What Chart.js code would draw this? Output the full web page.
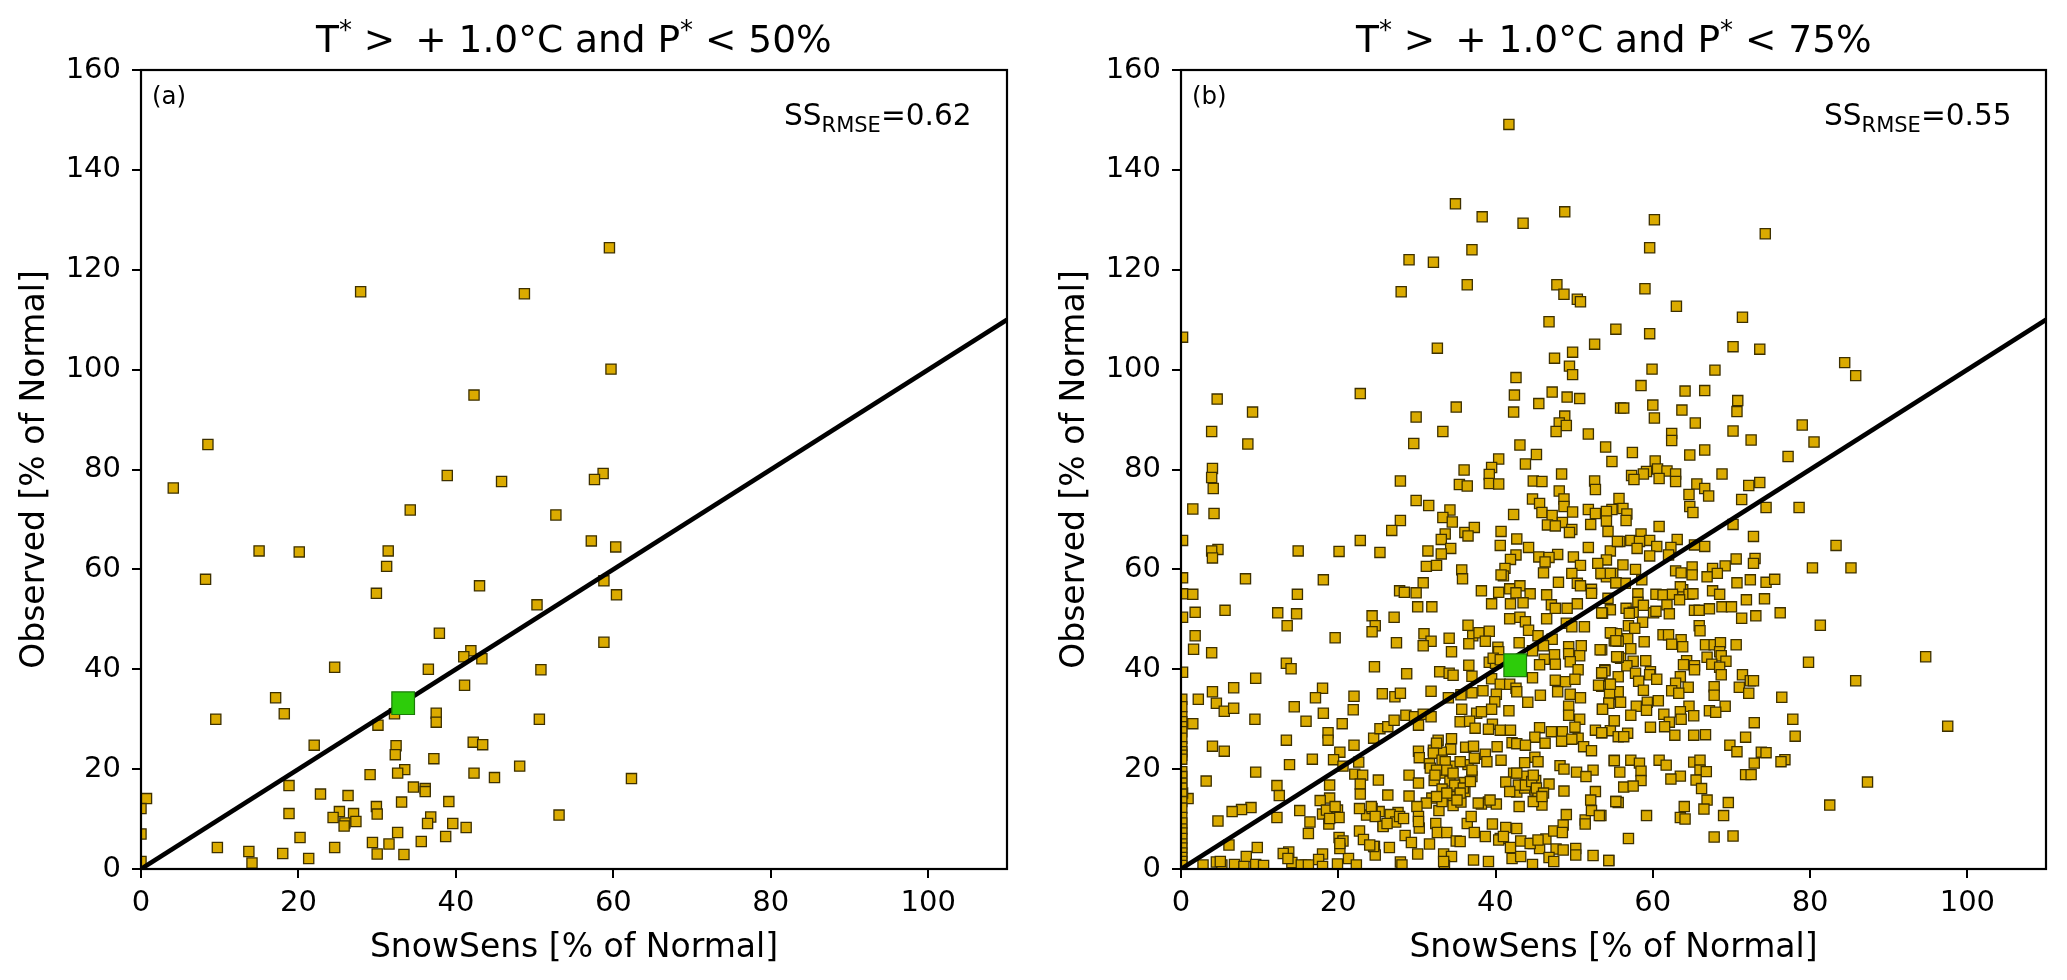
<!DOCTYPE html>
<html>
<head>
<meta charset="utf-8">
<title>SnowSens vs Observed</title>
<script src="https://cdn.jsdelivr.net/npm/chart.js@4"></script>
<style>
  body { margin: 0; background: #fff; width: 2067px; height: 980px; overflow: hidden; position: relative; font-family: "DejaVu Sans", sans-serif; color: #000; }
  canvas { position: absolute; top: 0; }
  .label { position: absolute; white-space: nowrap; line-height: 1; }
  .title { top: 21px; font-size: 37.5px; }
  .title sup { font-size: 26px; line-height: 0; }
  .title i { font-style: normal; margin-left: 8px; }
  .panel { top: 84px; font-size: 24.5px; }
  .skill { top: 101px; font-size: 29.6px; }
  .skill sub { font-size: 21px; line-height: 0; }
</style>
</head>
<body>
<canvas id="chart-a" style="left:0"></canvas>
<canvas id="chart-b" style="left:1040px"></canvas>

<div class="label title" style="left:316px">T<sup>*</sup> &gt; <i>+</i> 1.0°C and P<sup>*</sup> &lt; 50%</div>
<div class="label title" style="left:1356px">T<sup>*</sup> &gt; <i>+</i> 1.0°C and P<sup>*</sup> &lt; 75%</div>
<div class="label panel" style="left:152px">(a)</div>
<div class="label panel" style="left:1192px">(b)</div>
<div class="label skill" style="left:784px">SS<sub>RMSE</sub>=0.62</div>
<div class="label skill" style="left:1824px">SS<sub>RMSE</sub>=0.55</div>

<script>
const xTicks = [0, 20, 40, 60, 80, 100];
const yTicks = [0, 20, 40, 60, 80, 100, 120, 140, 160];
const oneToOne = [[0, 0], [110, 110]];

const meanA = [[33.3, 33.2]];
const meanB = [[42.5, 40.8]];

// panel a: [SnowSens, Observed]
const pointsA = [
  [59.5,124.4],[27.9,115.6],[48.7,115.2],[59.7,100.1],[42.3,94.9],[8.5,85.0],[38.9,78.8],[58.7,79.2],[57.6,78.0],[45.8,77.6],[4.1,76.3],
  [34.2,71.9],[52.7,70.9],[57.2,65.7],[60.3,64.5],[15.0,63.7],[20.1,63.5],[31.4,63.7],[31.2,60.6],[8.2,58.0],[58.8,57.7],[43.0,56.7],
  [29.9,55.2],[60.4,54.9],[50.3,52.9],[37.9,47.2],[58.8,45.4],[41.9,43.7],[41.0,42.5],[43.3,42.1],[24.6,40.4],[36.5,40.0],[50.8,39.9],
  [41.1,36.8],[17.1,34.3],[18.2,31.1],[37.5,31.2],[32.2,31.1],[37.5,29.4],[9.5,30.0],[50.6,30.0],[30.1,28.8],[22.0,24.8],[42.2,25.4],
  [43.4,24.9],[32.4,24.7],[32.3,22.9],[37.2,22.1],[48.1,20.6],[33.5,19.9],[32.6,19.2],[42.3,19.2],[29.1,18.9],[44.9,18.3],[62.3,18.1],
  [18.8,16.7],[34.6,16.4],[36.1,16.1],[36.1,15.5],[22.8,15.0],[26.3,14.7],[0.7,14.1],[39.1,13.5],[33.1,13.4],[29.9,12.5],[0.0,12.1],
  [25.2,11.5],[18.8,11.1],[30.0,11.0],[27.0,11.1],[53.1,10.8],[36.8,10.4],[24.4,10.3],[25.9,9.2],[27.3,9.5],[36.4,9.1],[39.6,9.1],
  [25.8,8.6],[41.3,8.3],[32.6,7.3],[0.0,7.0],[20.2,6.3],[38.7,6.5],[35.6,5.5],[29.4,5.3],[31.5,5.0],[9.7,4.3],[24.6,4.3],[13.7,3.5],
  [18.0,3.1],[30.0,3.0],[33.4,2.9],[21.3,2.1],[14.1,1.2],[0.0,1.5]
];

// panel b: [SnowSens, Observed]
const pointsB = [
  [41.7,149.1],[34.9,133.2],[48.8,131.6],[38.3,130.6],[43.5,129.3],[37.0,124.0],[29.0,122.0],[32.1,121.5],[28.0,115.6],[36.4,117.0],
  [47.8,117.0],[48.7,115.1],[50.4,114.1],[50.8,113.6],[46.8,109.6],[55.3,108.1],[52.6,105.1],[32.6,104.3],[0.2,106.5],[49.8,103.5],
  [47.5,102.3],[49.4,100.7],[49.8,99.0],[42.6,98.4],[42.4,94.9],[47.2,95.5],[49.1,94.5],[50.7,94.2],[45.5,93.2],[4.6,94.1],[9.1,91.5],
  [22.8,95.2],[35.0,92.5],[42.3,91.5],[48.8,90.7],[48.1,89.3],[49.0,88.8],[47.7,87.6],[51.8,87.1],[55.9,92.3],[29.9,90.5],[33.3,87.6],
  [3.9,87.6],[8.5,85.1],[29.6,85.2],[43.1,84.9],[45.2,83.0],[54.0,84.5],[40.4,82.1],[54.8,81.6],
  [60.2,130.0],[59.6,124.4],[74.3,127.2],[59.0,116.2],[63.0,112.7],[71.4,110.5],[59.6,107.2],[70.2,104.6],[73.6,104.1],[59.9,100.1],
  [67.9,99.9],[58.5,96.8],[84.4,101.4],[85.8,98.8],[64.1,95.7],[66.6,95.8],[56.3,92.3],[60.0,92.9],[60.2,90.3],[63.7,91.9],[65.4,89.3],
  [70.8,93.8],[70.7,91.6],[70.2,87.7],[72.5,85.9],[79.0,88.9],[80.5,85.5],[62.4,87.2],[62.4,85.8],[57.4,83.4],[60.3,81.7],[64.7,82.9],
  [66.6,83.9],[77.2,82.6],
  [60.6,80.1],[61.8,79.7],[59.2,79.6],[58.8,79.1],[57.3,78.8],[57.6,78.0],[60.8,78.2],[62.9,79.1],[62.9,77.6],[68.8,79.1],[65.6,77.1],
  [66.6,76.2],[72.2,76.8],[73.6,77.4],[64.6,75.0],[67.1,74.7],[71.3,74.0],[55.7,74.2],[64.7,72.6],[65.1,71.4],[74.4,72.4],[78.6,72.4],
  [56.2,72.2],[54.8,72.0],[54.1,71.6],[56.7,71.1],[54.1,69.7],[56.6,69.8],[54.3,67.6],[60.8,68.6],[70.2,69.0],[72.8,66.6],[58.5,67.1],
  [63.1,66.0],[55.8,65.6],[57.2,65.8],[59.6,65.8],[58.3,65.6],[83.3,64.8],[58.0,64.2],[60.5,64.6],[62.3,64.4],[65.3,64.9],[66.6,64.6],
  [54.6,63.7],[59.6,62.7],[62.0,62.9],[54.1,61.9],[70.6,62.1],[73.0,62.2],[72.8,61.2],[80.3,60.3],[85.2,60.3],[56.2,60.9],[69.2,60.7],
  [67.6,60.2],[57.8,60.0],[62.9,59.7],[63.6,59.3],[65.0,60.5],[65.0,58.9],[68.2,59.2],[66.9,58.5],[53.7,59.2],[54.9,59.2],[53.5,59.1],
  [54.1,58.5],[58.6,57.9],[55.3,57.3],[56.5,57.2],[70.7,57.3],[72.4,57.9],[74.4,57.4],[75.5,58.0],[63.8,55.9],[67.6,55.7],[63.5,56.5],
  [68.5,55.0],[64.6,55.0],[65.1,55.1],[60.4,55.0],[61.3,54.9],[62.5,55.0],[58.1,55.1],[58.1,53.4],[58.8,52.8],[63.4,53.9],[54.3,54.2],
  [71.9,53.9],[74.2,54.1],[54.6,51.9],[56.6,52.2],[61.8,52.9],[57.5,51.4],[57.0,51.2],[60.1,51.3],[60.4,51.6],[62.1,51.1],[65.3,51.8],
  [65.9,51.8],[67.2,52.1],[68.8,52.5],[70.0,52.5],[53.6,51.2],[71.3,50.2],[73.1,50.7],[76.2,51.3],[58.7,49.4],[56.9,48.7],[57.7,48.2],
  [81.3,48.8],[65.9,48.7],[66.0,47.7],[54.8,47.2],[61.3,46.9],[62.0,46.9],[55.4,47.1],[56.8,46.1],[63.6,45.9],[55.1,45.7],[55.6,45.6],
  [58.9,45.5],[62.4,45.0],[63.8,44.5],[66.7,44.9],[67.8,44.9],[68.6,45.3],[70.6,44.9],[57.2,44.1],[53.5,43.9],[68.5,43.5],[68.7,42.7],
  [66.9,42.4],[94.7,42.5],[55.6,42.5],[55.9,42.2],[57.5,41.6],[59.1,41.7],[64.3,41.7],[69.3,41.6],[79.8,41.4],[63.9,40.9],[67.5,41.0],
  [65.3,40.7],[56.7,40.7],[65.3,39.9],[68.5,40.4],[53.9,39.9],[53.5,39.2],[57.8,39.2],[59.7,39.5],[59.6,38.9],[63.5,38.5],[68.7,38.9],
  [71.4,38.9],[55.6,38.5],[72.4,37.7],[72.8,37.7],[60.5,38.0],[58.2,37.6],[54.5,37.0],[85.8,37.7],[62.9,37.2],[53.5,36.6],[67.8,36.5],
  [71.0,36.4],[64.5,36.4],[62.4,35.7],[58.8,35.8],[55.6,35.5],[63.3,35.2],[67.8,34.8],[72.2,35.2],[54.5,35.0],[76.4,34.4],[60.7,33.7],
  [55.9,33.4],[54.4,33.2],[57.9,32.6],[59.3,33.4],[59.2,31.8],[64.6,32.6],[69.2,32.6],[53.6,32.0],[63.5,31.5],[67.2,31.7],[68.0,31.4],
  [61.4,31.0],[57.2,30.8],[63.6,30.0],[65.2,30.7],[55.1,29.7],[62.1,29.4],[72.9,29.3],[77.8,30.0],[97.5,28.6],[61.5,28.5],[59.7,28.4],
  [54.6,27.7],[53.5,27.3],[56.8,27.2],[55.6,26.5],[56.3,26.5],[62.8,26.8],[65.2,26.8],[66.7,26.9],[71.8,26.4],[78.1,26.6],[69.8,24.8],
  [70.7,23.5],[73.8,23.4],[74.4,23.3],[76.8,21.9],[76.3,21.5],[55.1,21.8],[57.2,21.8],[58.3,21.2],[60.8,21.8],[61.7,20.8],[65.2,21.4],
  [66.0,21.8],[72.9,21.2],[55.8,19.4],[58.5,19.6],[66.0,19.8],[66.8,19.5],[71.8,18.9],[72.5,18.9],[63.5,18.6],[62.3,18.0],[58.5,17.7],
  [65.5,17.8],[87.3,17.4],[56.3,16.4],[57.5,16.6],[66.2,16.1],[66.9,13.8],[55.3,13.5],[55.6,13.3],[69.6,13.3],[64.0,12.5],[82.5,12.8],
  [66.5,12.0],[59.2,10.7],[63.5,10.3],[64.1,10.0],[69.0,10.7],[53.4,10.7],[56.9,6.1],[67.8,6.4],[70.2,6.6],[54.4,1.7],
  [4.0,80.2],[3.9,78.4],[4.1,76.2],[1.5,72.1],[4.2,71.2],[0.2,65.8],[4.7,64.0],[3.9,63.7],[4.0,62.3],[0.2,58.3],[0.2,55.1],[1.5,55.0],
  [0.2,50.4],[1.8,51.4],[1.8,46.7],[1.6,44.0],[3.9,43.3],[0.2,39.4],[8.2,58.1],[14.9,63.7],[20.1,63.6],[22.8,65.8],[25.3,63.4],[27.9,77.7],
  [29.9,73.8],[31.5,72.8],[27.9,69.8],[26.8,67.8],[34.2,71.9],[33.3,70.4],[34.5,69.5],[33.6,67.1],[33.1,66.0],[34.3,64.2],[31.4,63.7],
  [33.1,63.1],[31.2,60.6],[32.5,60.8],[36.1,67.4],[37.3,68.4],[36.5,66.7],[36.0,79.9],[35.4,77.0],[36.4,76.7],[39.5,80.4],[39.2,79.0],
  [39.2,77.2],[40.4,77.1],[43.8,81.1],[44.8,77.7],[45.9,77.6],[48.4,79.1],[52.6,77.7],[52.7,76.0],[48.1,75.7],[48.7,74.1],[44.7,74.1],
  [45.6,73.2],[48.7,72.6],[45.9,71.4],[47.2,70.8],[42.3,71.0],[49.8,71.5],[51.8,72.0],[52.7,71.2],[52.1,69.0],[48.5,69.4],[46.6,68.9],
  [47.6,68.7],[49.7,68.0],[49.4,67.4],[40.7,67.6],[42.7,66.1],[40.6,64.8],[44.2,64.4],[51.8,64.4],[55.5,65.6],[47.9,63.0],[42.6,62.9],
  [45.5,62.5],[46.8,62.4],[49.9,62.5],[41.9,62.0],[41.2,60.2],[53.0,61.2],[50.8,60.8],[46.3,61.5],[46.1,59.3],[35.7,59.9],[35.8,58.1],
  [41.0,58.7],[40.7,58.9],[49.7,59.2],[53.4,59.2],[54.6,59.2],[48.0,57.4],[50.4,57.2],[55.3,57.3],[50.8,56.7],[52.2,56.0],[52.2,55.2],
  [30.8,57.3],[38.2,55.7],[40.4,55.4],[41.8,56.1],[43.1,56.7],[42.6,55.3],[44.4,55.1],[27.8,55.7],[28.4,55.4],[29.9,55.3],[46.5,54.9],
  [41.9,53.1],[43.5,53.3],[39.5,53.1],[30.1,52.5],[31.9,52.5],[50.4,53.1],[47.1,52.9],[47.6,52.2],[49.1,52.2],[53.5,51.3],[41.8,50.1],
  [43.1,50.4],[46.5,50.1],[43.8,49.5],[49.0,49.2],[51.3,48.5],[49.7,48.5],[24.3,50.7],[24.7,48.7],[24.3,47.5],[27.1,50.4],[5.6,51.8],
  [12.3,51.3],[14.7,51.1],[13.5,48.7],[18.1,57.9],[14.8,55.0],[19.6,46.3],[27.4,45.3],[30.9,47.1],[31.8,45.6],[30.8,44.7],[34.1,46.2],
  [34.4,43.5],[36.5,48.8],[37.1,46.7],[37.9,47.3],[39.2,47.6],[36.6,45.1],[38.7,45.6],[44.2,47.8],[45.4,46.7],[43.0,45.3],[47.2,46.0],
  [54.6,47.3],[55.3,45.7],[40.3,44.4],[40.4,43.5],[46.1,44.7],[49.3,44.5],[50.9,44.7],[53.3,43.9],[44.7,43.7],[47.5,42.9],[50.7,42.7],
  [49.3,43.1],[46.2,42.0],[49.5,41.5],[47.6,41.0],[45.6,40.9],[55.6,42.4],[39.2,41.4],[40.0,41.2],[36.6,40.8],[50.5,39.9],[53.9,39.7],
  [53.5,39.3],[55.4,42.5],[13.4,41.2],[14.0,40.1],[24.6,40.5],[28.7,39.1],[32.9,39.5],[34.1,39.2],[34.6,38.8],[37.0,38.6],[9.5,38.2],
  [39.5,38.1],[44.7,38.3],[47.6,37.8],[48.9,37.5],[50.1,38.0],[4.0,35.5],[6.7,36.3],[2.2,34.0],[4.5,33.2],[5.5,31.6],[6.7,32.2],[18.0,36.2],
  [17.1,34.3],[14.4,32.5],[18.1,31.2],[15.9,29.6],[20.5,29.1],[22.0,34.6],[21.9,31.9],[25.6,35.1],[27.2,34.5],[27.9,35.2],[31.8,35.6],
  [34.0,34.3],[35.6,34.9],[37.0,35.3],[38.4,35.7],[40.6,37.0],[41.8,37.0],[42.6,36.2],[40.1,35.0],[39.9,33.5],[42.7,35.5],[44.1,33.4],
  [45.7,34.8],[47.9,35.5],[49.5,35.0],[50.8,34.3],[53.1,36.8],[54.6,37.0],[54.4,33.2],[53.6,32.0],[49.3,32.6],[49.3,30.8],[50.7,30.0],
  [55.1,29.7],[39.5,32.0],[35.7,32.0],[41.7,31.7],[37.6,31.2],[38.2,31.5],[9.4,30.0],[1.5,29.1],[4.0,24.6],[5.5,23.6],[13.4,25.8],[18.7,27.3],
  [18.7,25.8],[22.0,24.8],[24.5,26.2],[25.3,28.1],[26.3,28.5],[27.1,29.8],[28.6,30.8],[29.7,30.5],[30.8,31.0],[31.8,30.5],[30.2,28.8],
  [35.5,29.5],[36.7,29.6],[37.4,28.2],[39.6,29.0],[39.1,28.0],[40.6,27.8],[41.9,27.8],[45.6,28.3],[50.1,28.4],[47.1,27.5],[48.5,27.5],
  [52.7,27.8],[53.5,27.3],[45.0,26.4],[48.4,25.6],[50.5,26.2],[49.7,26.0],[32.7,25.8],[34.4,26.1],[46.3,25.2],[42.1,25.3],[42.7,25.1],
  [43.8,24.8],[32.5,24.6],[32.1,23.8],[34.3,24.0],[36.2,24.4],[37.2,24.6],[40.2,24.5],[51.2,24.5],[52.2,23.7],[20.2,23.4],[16.7,22.0],
  [19.4,21.9],[13.8,20.9],[20.6,20.6],[22.6,21.4],[30.2,23.6],[30.3,22.3],[33.1,23.4],[31.6,21.1],[33.4,20.9],[34.5,20.6],[36.5,20.9],
  [37.3,22.2],[38.7,23.0],[38.9,21.5],[40.7,21.8],[45.0,22.4],[45.4,21.5],[43.7,21.3],[55.1,21.7],[48.2,20.7],[48.7,20.0],[50.3,19.4],
  [52.4,19.8],[51.5,18.5],[9.5,19.4],[3.2,17.6],[12.2,16.7],[12.5,14.7],[18.9,16.8],[22.1,19.0],[23.1,18.8],[22.8,17.0],[22.8,15.0],[25.1,17.8],
  [29.0,18.8],[30.2,17.2],[32.2,17.7],[33.5,19.2],[34.2,17.6],[36.0,17.3],[37.0,18.5],[33.2,16.0],[34.6,14.5],[36.1,15.5],[26.3,14.8],[29.0,14.6],
  [31.9,14.2],[0.9,14.1],[0.2,15.2],[42.3,19.2],[43.8,18.6],[41.3,17.4],[42.7,15.4],[45.1,17.7],[45.0,15.8],[46.8,17.0],[45.4,15.0],[43.7,16.2],
  [48.7,15.6],[52.7,15.5],[52.1,13.8],[55.3,13.5],[45.9,12.8],[39.1,13.4],[38.2,13.0],[40.1,13.0],[43.0,12.5],[34.6,12.7],[35.6,13.4],[32.8,11.7],
  [33.2,13.5],[31.2,13.2],[30.0,12.5],[30.2,10.5],[30.3,8.2],[27.6,11.3],[26.6,10.9],[27.3,9.4],[25.7,8.7],[25.2,11.5],[23.6,10.8],[24.3,12.1],
  [22.7,12.1],[18.9,14.2],[17.7,13.7],[18.0,11.0],[19.3,11.3],[19.9,11.8],[20.1,10.3],[18.8,9.0],[16.4,9.4],[16.2,7.1],[15.1,11.7],[12.2,10.3],
  [8.9,12.3],[7.7,11.9],[6.5,11.5],[4.7,9.6],[6.1,4.8],[9.7,4.3],[8.3,2.5],[13.7,3.4],[18.0,3.0],[17.5,1.9],[14.1,1.3],[2.8,0.8],[4.5,1.4],[5.2,0.8],
  [6.8,0.9],[8.0,0.5],[9.5,0.9],[10.5,0.7],[15.8,0.8],[18.0,0.5],[19.9,1.0],[21.3,2.1],[22.3,0.8],[20.1,6.3],[20.6,5.6],[20.2,4.1],[22.7,7.6],[23.2,5.9],
  [24.6,4.5],[24.7,2.8],[26.5,4.3],[28.5,6.7],[29.3,5.3],[30.1,3.0],[31.6,5.0],[27.9,1.4],[28.1,0.8],[32.4,9.1],[32.6,7.3],[33.8,7.3],[35.0,5.6],
  [33.4,3.0],[34.4,2.5],[33.5,0.7],[37.2,1.8],[39.1,1.5],[36.4,9.1],[36.9,10.5],[37.3,7.3],[38.7,6.5],[39.6,9.0],[40.6,6.1],[41.3,8.3],[42.7,8.1],
  [41.9,4.3],[42.1,2.1],[43.2,5.6],[43.2,2.5],[44.8,5.1],[44.7,0.9],[45.6,4.1],[46.4,6.0],[47.4,7.6],[48.6,8.8],[49.0,10.9],[48.5,7.3],[47.7,4.0],
  [46.8,2.3],[47.4,1.5],[50.2,4.1],[50.2,2.8],[51.4,9.8],[52.2,11.7],[53.2,10.7],[52.4,2.7],[54.4,1.7],
  [32.5,25.2],[32.1,23.2],[33.2,21.8],[33.6,21.5],[31.7,20.2],[32.5,19.8],[33.8,19.8],[34.6,19.2],[35.5,21.5],[32.3,18.8],[34.8,16.8],[35.9,16.2],
  [37.0,19.8],[36.8,17.5],[35.5,15.2],[33.8,15.2],[32.5,14.5],[35.1,13.8],[42.9,16.8],[43.8,16.8],[44.6,17.5],[45.2,16.2],[46.1,15.2],[44.8,13.5],
  [45.9,14.5],[41.8,15.5],[42.7,19.2],[44.8,18.8],[18.5,11.8],[19.6,12.5],[18.9,10.1],[24.2,12.5],[24.7,10.5],[25.7,8.5],[27.8,10.5],[26.2,9.1],
  [28.3,10.1],[13.0,3.1],[13.6,2.1],[15.3,0.8],[16.2,0.8],[5.0,1.5],[44.4,5.1],[45.4,5.8],[48.6,3.8],[35.5,5.5],[40.4,5.8],[41.0,6.5],[51.4,9.0],
  [30.2,9.5],[37.8,13.2],[39.3,13.8],[24.5,4.5],[24.0,4.8],[33.4,1.5],[20.2,5.1],[39.7,42.2],[40.6,41.9]
];

// the column of points sitting on the y axis in panel b
const axisB = [34, 32.5, 30.5, 29.5, 28.5, 27.5, 26.2, 24.5, 23.5, 22.8, 22, 19.5, 18.5, 17.2, 16.2, 15, 13.5, 12.2, 10.3, 9.2, 8, 7.2, 6.1, 5, 4.2, 3.2, 2.3, 1.5, 0.7];

const toXY = pairs => pairs.map(p => ({ x: p[0], y: p[1] }));

const frame = {
  id: 'frame',
  afterDraw(chart) {
    const a = chart.chartArea;
    const c = chart.ctx;
    c.save();
    c.strokeStyle = '#000';
    c.lineWidth = 2.2;
    c.strokeRect(a.left, a.top, a.width, a.height);
    c.restore();
  }
};

function makeChart(id, w, leftAxis, rightPad, points, mean) {
  const canvas = document.getElementById(id);
  canvas.width = w;
  canvas.height = 980;
  const ticks = { color: '#000', font: { family: 'DejaVu Sans', size: 29 }, maxRotation: 0, autoSkip: false };
  return new Chart(canvas, {
    type: 'scatter',
    data: {
      datasets: [
        { data: toXY(mean), pointStyle: 'rect', pointRadius: 16, backgroundColor: '#2dcc0a', borderColor: '#1c7a0a', borderWidth: 1.2, clip: 0 },
        { type: 'line', data: toXY(oneToOne), borderColor: '#000', borderWidth: 4.6, pointRadius: 0, clip: 0 },
        { data: toXY(points), pointStyle: 'rect', pointRadius: 7.2, backgroundColor: '#dbab00', borderColor: '#3d3000', borderWidth: 1.3, clip: 0 }
      ]
    },
    options: {
      responsive: false,
      animation: false,
      devicePixelRatio: 1,
      events: [],
      layout: { padding: { top: 70, right: rightPad, left: 0, bottom: 0 } },
      plugins: { legend: { display: false }, tooltip: { enabled: false } },
      scales: {
        x: {
          type: 'linear', min: 0, max: 110,
          afterBuildTicks: s => { s.ticks = xTicks.map(v => ({ value: v })); },
          afterFit: s => { s.height = 111; },
          grid: { drawOnChartArea: false, color: '#000', lineWidth: 2, tickLength: 9 },
          border: { display: false },
          ticks: { ...ticks, padding: 8 },
          title: { display: true, text: 'SnowSens [% of Normal]', color: '#000', font: { family: 'DejaVu Sans', size: 33 }, padding: { top: 0, bottom: 12 } }
        },
        y: {
          type: 'linear', min: 0, max: 160,
          afterBuildTicks: s => { s.ticks = yTicks.map(v => ({ value: v })); },
          afterFit: s => { s.width = leftAxis; },
          grid: { drawOnChartArea: false, color: '#000', lineWidth: 2, tickLength: 9 },
          border: { display: false },
          ticks: { ...ticks, padding: 11 },
          title: { display: true, text: 'Observed [% of Normal]', color: '#000', font: { family: 'DejaVu Sans', size: 33 }, padding: { top: 16, bottom: 0 } }
        }
      }
    },
    plugins: [frame]
  });
}

makeChart('chart-a', 1034, 141, 27, pointsA, meanA);
makeChart('chart-b', 1027, 141, 21, pointsB.concat(axisB.map(v => [0.1, v])), meanB);
</script>
</body>
</html>
